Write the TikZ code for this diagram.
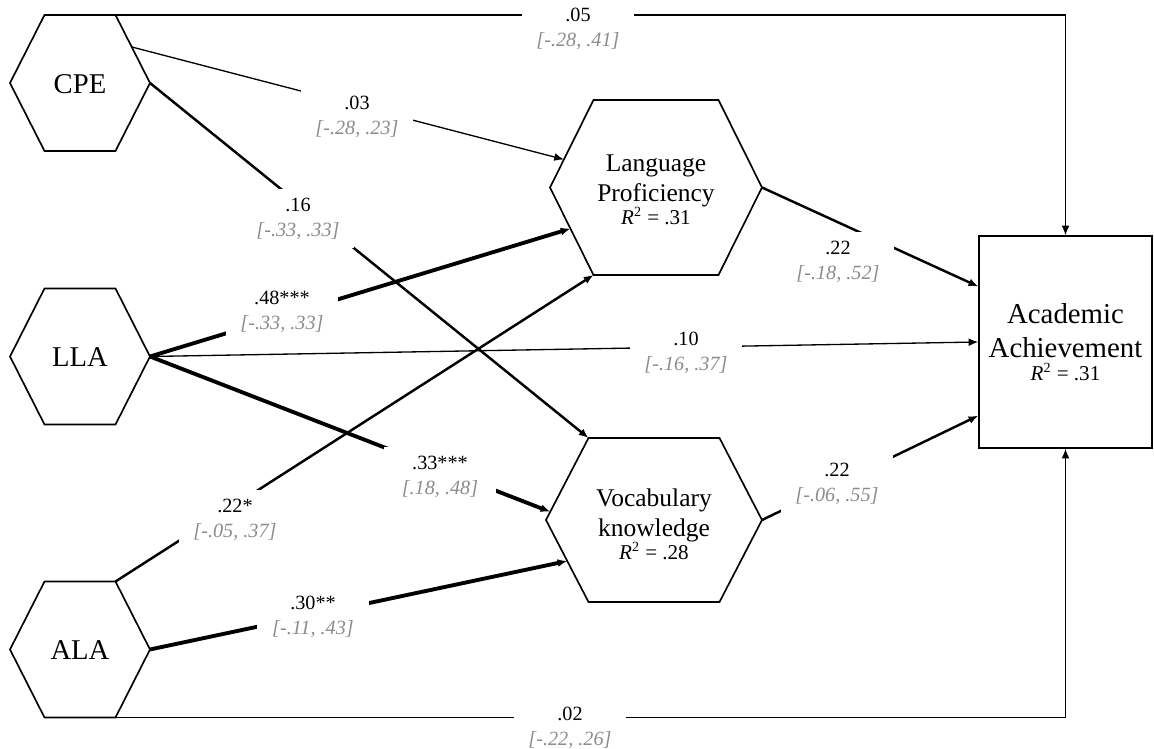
\documentclass[tikz,border=0pt]{standalone}
\usepackage{fontspec}
\setmainfont{Liberation Serif}
\usetikzlibrary{calc,arrows.meta}
\definecolor{cigray}{RGB}{140,140,140}
\newcommand{\cint}[1]{\textcolor{cigray}{\itshape #1}}
\newcommand{\rsq}[1]{{\fontsize{12}{14}\selectfont\textit{R}\textsuperscript{2} = #1}}
\tikzset{
  pics/hexa/.style args={#1/#2/#3}{code={
    \draw[hexline] (-#1,0) coordinate (-w) -- (-#2,-#3) coordinate (-nw)
      -- (#2,-#3) coordinate (-ne) -- (#1,0) coordinate (-e)
      -- (#2,#3) coordinate (-se) -- (-#2,#3) coordinate (-sw) -- cycle;
  }},
  hexline/.style={line width=0.95pt},
  hextext/.style={font=\fontsize{16.3}{19}\selectfont},
  hexinner/.style={align=center,font=\fontsize{14.5}{17}\selectfont},
  aabox/.style={draw,line width=0.9pt,minimum width=3.46cm,minimum height=4.24cm,
    align=center,font=\fontsize{16.4}{19.3}\selectfont},
  lightpath/.style={-{Latex[length=5.5pt,width=4.5pt]},line width=0.75pt},
  midpath/.style={-{Latex[length=5.5pt,width=4.5pt]},line width=1.4pt},
  boldpath/.style={-{Latex[length=5.5pt,width=4.5pt]},line width=2.2pt},
  lbl/.style={fill=white,align=center,font=\fontsize{11.5}{14.2}\selectfont,
    inner xsep=0pt,inner ysep=5pt,minimum width=2.24cm}
}
\begin{document}
\begin{tikzpicture}[x=0.02cm,y=-0.02cm]
	\useasboundingbox (0,0) rectangle (1154,749);
	% predictors
	\pic (cpe) at (80,83) {hexa=70/35.5/68};
	\pic (lla) at (80,356.5) {hexa=70/35.5/68};
	\pic (ala) at (80,649.5) {hexa=70/35.5/68};
	\node[hextext] (cpe) at (80,84) {CPE};
	\node[hextext] (lla) at (80,357) {LLA};
	\node[hextext] (ala) at (80,650) {ALA};
	% mediators
	\pic (lp) at (656,187.5) {hexa=106/62.5/87.5};
	\pic (vk) at (654,520) {hexa=108/65.5/82};
	\node[hexinner] (lp) at (656,190) {Language\\Proficiency\\[-4pt]\rsq{.31}};
	\node[hexinner] (vk) at (654,524) {Vocabulary\\knowledge\\[-4pt]\rsq{.28}};
	% outcome
	\node[aabox] (aa) at (1065.5,342) {Academic\\Achievement\\[-6pt]\rsq{.31}};
	% paths
	\draw[lightpath] (cpe-ne) -| (aa.north);
	\draw[lightpath] ($(cpe-ne)!0.47!(cpe-e)$) -- ($(lp-w)!0.32!(lp-nw)$);
	\draw[midpath] (cpe-e) -- (vk-nw);
	\draw[boldpath] (lla-e) -- ($(lp-w)!0.47!(lp-sw)$);
	\draw[lightpath] (lla-e) -- (aa.west);
	\draw[boldpath] (lla-e) -- ($(vk-w)!0.1!(vk-nw)$);
	\draw[midpath] (ala-ne) -- (lp-sw);
	\draw[boldpath] (ala-e) -- ($(vk-w)!0.5!(vk-sw)$);
	\draw[lightpath] (ala-se) -| (aa.south);
	\draw[midpath] (lp-e) -- ($(aa.north west)!0.24!(aa.south west)$);
	\draw[midpath] (vk-e) -- ($(aa.north west)!0.845!(aa.south west)$);
	% coefficients
	\node[lbl] (l05) at (578,29) {.05\\\cint{[-.28, .41]}};
	\node[lbl] (l03) at (357,117) {.03\\\cint{[-.28, .23]}};
	\node[lbl] (l16) at (298,219) {.16\\\cint{[-.33, .33]}};
	\node[lbl] (l48) at (282,312) {.48***\\\cint{[-.33, .33]}};
	\node[lbl] (l10) at (686,353) {.10\\\cint{[-.16, .37]}};
	\node[lbl] (l33) at (440,477) {.33***\\\cint{[.18, .48]}};
	\node[lbl] (l22a) at (235,520) {.22*\\\cint{[-.05, .37]}};
	\node[lbl] (l30) at (313,617) {.30**\\\cint{[-.11, .43]}};
	\node[lbl] (l02) at (570,728) {.02\\\cint{[-.22, .26]}};
	\node[lbl] (l22b) at (838,262) {.22\\\cint{[-.18, .52]}};
	\node[lbl] (l22c) at (837,484) {.22\\\cint{[-.06, .55]}};
\end{tikzpicture}
\end{document}
